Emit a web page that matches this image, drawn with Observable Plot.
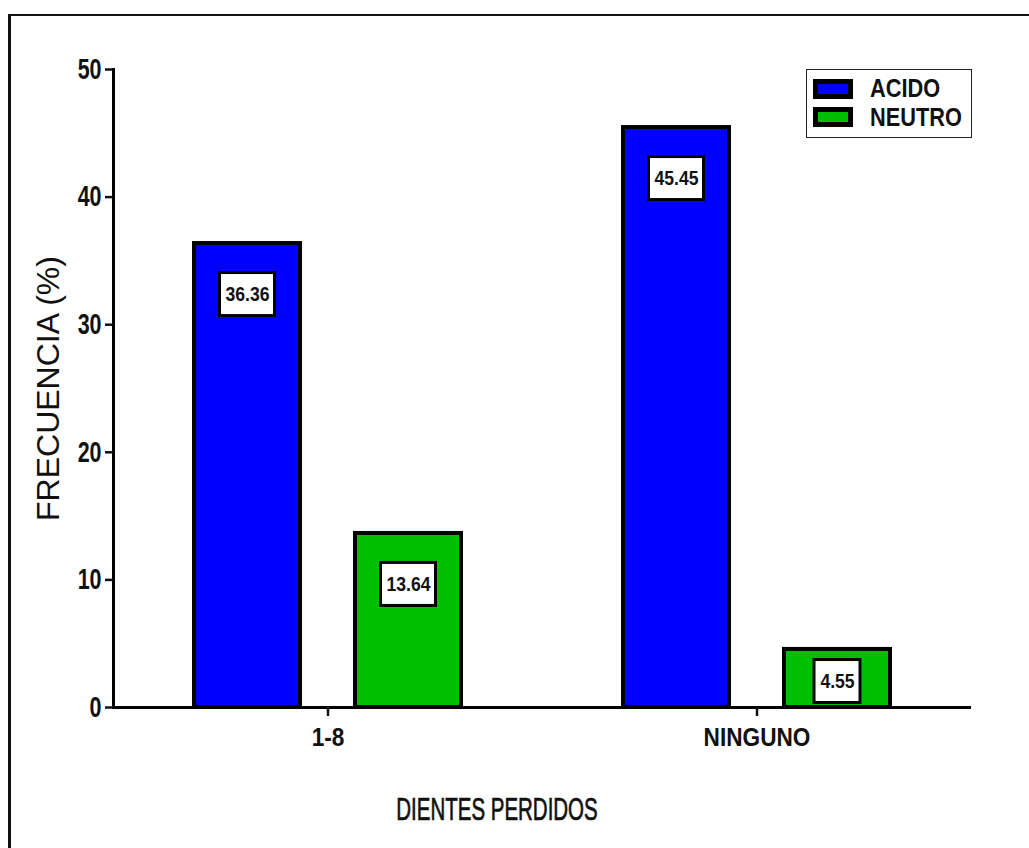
<!DOCTYPE html>
<html>
<head>
<meta charset="utf-8">
<script src="https://cdn.jsdelivr.net/npm/d3@7"></script>
<script src="https://cdn.jsdelivr.net/npm/@observablehq/plot@0.6"></script>
<style>
  html, body { margin: 0; padding: 0; background: #fff; }
  #wrap { position: relative; width: 1029px; height: 848px; overflow: hidden; font-family: "Liberation Sans", Arial, sans-serif; }
  #border { position: absolute; left: 8px; top: 14px; right: -10px; bottom: -10px; border-left: 3px solid #111; border-top: 2px solid #111; }
  #chart { position: absolute; left: 0; top: 0; }
  #legend-box { position: absolute; left: 806px; top: 69px; width: 164px; height: 67px; border: 1.5px solid #222; background: #fff; }
  .swatch { position: absolute; left: 813px; width: 40px; height: 20px; box-sizing: border-box; border: 5px solid #000; }
  .legend-text { position: absolute; left: 870px; font-size: 25px; font-weight: bold; line-height: 28px; color: #111; transform: scaleX(0.87); transform-origin: left center; white-space: nowrap; }
  #xtitle { position: absolute; left: 0; width: 994px; top: 791px; text-align: center; font-size: 32px; line-height: 36px; color: #111; transform: scaleX(0.64); white-space: nowrap; -webkit-text-stroke: 0.7px #111; }
</style>
</head>
<body>
<div id="wrap">
  <div id="border"></div>
  <div id="chart"></div>
  <div id="legend-box"></div>
  <div id="xtitle"></div>
</div>
<script>
// Teeth lost (category) vs. saliva pH group, frequency in percent
const categories = ["1-8", "NINGUNO"];
const groups = ["ACIDO", "NEUTRO"];
const acido = [36.36, 45.45];
const neutro = [13.64, 4.55];
const groupColors = ["#0000ff", "#00bf00"];
const yTicks = [0, 10, 20, 30, 40, 50];
const yTitle = "FRECUENCIA (%)";
const xTitle = "DIENTES PERDIDOS";

const rows = categories.flatMap((cat, i) => [
  {cat, grupo: groups[0], value: acido[i]},
  {cat, grupo: groups[1], value: neutro[i]}
]);

// value boxes sit inside the top of the bar; short bars get them against the baseline
const fitsInside = d => d.value >= 6;
const tall = rows.filter(fitsInside);
const short = rows.filter(d => !fitsInside(d));
const label = d => d.value.toFixed(2);

const chart = Plot.plot({
  width: 1029,
  height: 760,
  marginLeft: 113,
  marginRight: 58,
  marginTop: 69,
  marginBottom: 53,
  style: {fontFamily: "'Liberation Sans', Arial, sans-serif", color: "#111", background: "transparent"},
  fx: {domain: categories, padding: 0},
  x: {domain: groups, paddingInner: 0.34, paddingOuter: 0.5, axis: null},
  y: {domain: [0, 50]},
  color: {domain: groups, range: groupColors},
  marks: [
    Plot.barY(rows, {fx: "cat", x: "grupo", y: "value", fill: "grupo", stroke: "#000", strokeWidth: 4}),
    Plot.ruleY([0], {stroke: "#000", strokeWidth: 3}),
    Plot.frame({anchor: "left", facetAnchor: "left", stroke: "#000", strokeWidth: 3}),
    Plot.axisY({ticks: yTicks, tickSize: 8, tickPadding: 4, strokeWidth: 2.5, fontSize: 29, fontWeight: "bold", label: null}),
    Plot.axisFx({anchor: "bottom", tickSize: 9, tickPadding: 11, strokeWidth: 2.5, fontSize: 26, fontWeight: "bold", label: null}),
    Plot.text([yTitle], {frameAnchor: "left", facetAnchor: "left", textAnchor: "middle", lineAnchor: "middle", rotate: -90, dx: -64.5, fontSize: 32, fill: "#111"}),
    // value boxes
    Plot.barY(tall, {fx: "cat", x: "grupo", y1: "value", y2: "value", insetTop: 29.5, insetBottom: -72.5, insetLeft: 25.5, insetRight: 25.5, fill: "#fff", stroke: "#000", strokeWidth: 3}),
    Plot.barY(short, {fx: "cat", x: "grupo", y1: () => 0, y2: () => 0, insetTop: -47.5, insetBottom: 4.5, insetLeft: 30, insetRight: 30, fill: "#fff", stroke: "#000", strokeWidth: 3}),
    Plot.text(tall, {fx: "cat", x: "grupo", y: "value", text: label, dy: 51, fontSize: 20, fontWeight: "bold", fill: "#111"}),
    Plot.text(short, {fx: "cat", x: "grupo", y: () => 0, text: label, dy: -26, fontSize: 20, fontWeight: "bold", fill: "#111"})
  ]
});

// narrow the horizontal lettering about each label's own anchor
function condense(root, selector, k) {
  root.querySelectorAll(selector).forEach(t => {
    const tr = t.getAttribute("transform") || "";
    if (/rotate/.test(tr)) return;
    const x = +t.getAttribute("x") || 0, y = +t.getAttribute("y") || 0;
    t.setAttribute("transform", `${tr} translate(${x},${y}) scale(${k},1) translate(${-x},${-y})`);
  });
}
condense(chart, 'g[aria-label="y-axis tick label"] text', 0.74);
condense(chart, 'g[aria-label="fx-axis tick label"] text', 0.87);
condense(chart, 'g[aria-label="text"] text', 0.88);

document.getElementById("chart").append(chart);

// legend
const wrap = document.getElementById("wrap");
const swatchTops = [79, 107];
const textTops = [74, 103];
groups.forEach((g, i) => {
  const sw = document.createElement("div");
  sw.className = "swatch";
  sw.style.top = swatchTops[i] + "px";
  sw.style.background = groupColors[i];
  wrap.append(sw);
  const tx = document.createElement("div");
  tx.className = "legend-text";
  tx.style.top = textTops[i] + "px";
  tx.textContent = g;
  wrap.append(tx);
});
document.getElementById("xtitle").textContent = xTitle;
</script>
</body>
</html>
